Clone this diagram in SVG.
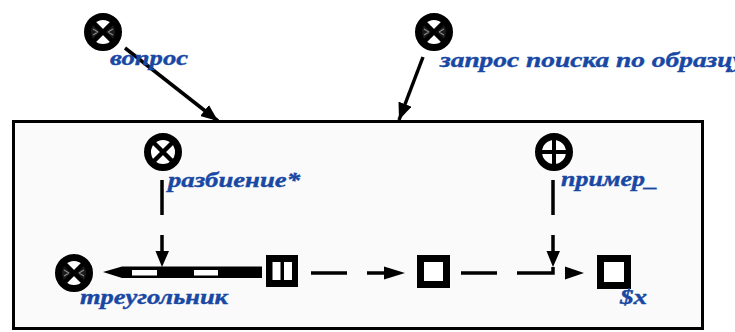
<svg xmlns="http://www.w3.org/2000/svg" xmlns:xlink="http://www.w3.org/1999/xlink" width="735" height="332" viewBox="0 0 735 332">
<style>
.lbl{font-family:"Liberation Serif","DejaVu Serif",serif;font-weight:bold;font-style:italic;font-size:21px;fill:#1848a4;stroke:#1848a4;stroke-width:0.4}
.ln{stroke:#000;stroke-width:3.5;fill:none}
.ar{fill:#000}
.sq{fill:#fff;stroke:#000;stroke-width:7}
</style>
<defs>
<marker id="ah" markerUnits="userSpaceOnUse" markerWidth="18" markerHeight="14" refX="17" refY="7" orient="auto"><path d="M0,0 L17,7 L0,14 Z" fill="#000"/></marker>
<g id="cX">
<circle r="15.5" fill="#fff"/>
<path d="M-10,-10 L10,10 M10,-10 L-10,10" stroke="#000" stroke-width="4.5"/>
<circle r="15.5" fill="none" stroke="#000" stroke-width="7"/>
</g>
<g id="cH">
<circle r="15.5" fill="#fff"/>
<path d="M0,0 L-13,-13 L-13,13 Z M0,0 L13,-13 L13,13 Z" fill="#1a1a1a"/>
<path d="M-10,-3 L-5,0 M-10,3 L-5,0 M10,-3 L5,0 M10,3 L5,0" stroke="#888" stroke-width="1.2"/>
<path d="M-10,-10 L10,10 M10,-10 L-10,10" stroke="#000" stroke-width="4.5"/>
<circle r="15.5" fill="none" stroke="#000" stroke-width="7"/>
</g>
<g id="cP">
<circle r="15.5" fill="#fff"/>
<path d="M0,-13 V13 M-13,0 H13" stroke="#000" stroke-width="4"/>
<circle r="15.5" fill="none" stroke="#000" stroke-width="7"/>
</g>
</defs>

<rect id="frame" x="13.5" y="121.5" width="689" height="207" fill="#fafafa" stroke="#000" stroke-width="3"/>

<g id="connectors">
<line class="ln" x1="125" y1="48" x2="218" y2="121" stroke-width="3" marker-end="url(#ah)"/>
<line class="ln" x1="423" y1="57" x2="399" y2="120" stroke-width="3" marker-end="url(#ah)"/>
<path class="ln" d="M162,180 V215 M162,235 V252"/>
<polygon class="ar" points="155.5,251 169,251 162,267"/>
<path class="ln" d="M553,180 V215 M553,235 V252"/>
<polygon class="ar" points="546.5,251 560,251 553,267"/>
<path class="ln" d="M311,273 H347 M367,273 H385"/>
<polygon class="ar" points="384,266.5 405,273 384,279.5"/>
<path class="ln" d="M461,273 H497 M517,273 H553 V267"/>
<polygon class="ar" points="565,266.5 584,273 565,279.5"/>
</g>

<g id="vopros"><use xlink:href="#cH" x="103" y="32"/><text class="lbl" x="110" y="65" textLength="78" lengthAdjust="spacingAndGlyphs">вопрос</text></g>
<g id="zapros"><use xlink:href="#cH" x="434" y="32"/><text class="lbl" x="440" y="67" textLength="305" lengthAdjust="spacingAndGlyphs">запрос поиска по образцу</text></g>
<g id="razbienie"><use xlink:href="#cX" x="163" y="152"/><text class="lbl" x="168" y="187" textLength="132" lengthAdjust="spacingAndGlyphs">разбиение*</text></g>
<g id="primer"><use xlink:href="#cP" x="554" y="152"/><text class="lbl" x="561" y="186" textLength="97" lengthAdjust="spacingAndGlyphs">пример_</text></g>
<g id="treugolnik"><use xlink:href="#cH" x="74" y="273"/><text class="lbl" x="80" y="304" textLength="148" lengthAdjust="spacingAndGlyphs">треугольник</text></g>
<g id="bar">
<polygon points="103,272 122,266.5 262,266.5 262,278 122,278" fill="#000"/>
<rect x="132" y="270" width="25" height="5.5" fill="#fff"/>
<rect x="194" y="270" width="24" height="5.5" fill="#fff"/>
</g>
<g id="sq1">
<rect x="266" y="255" width="32" height="32" fill="#000"/>
<rect x="272.5" y="262" width="8" height="18" fill="#fff"/>
<rect x="284" y="262" width="8" height="18" fill="#fff"/>
</g>
<g id="sq2"><rect class="sq" x="420.5" y="258.5" width="26" height="26"/></g>
<g id="sq3"><rect class="sq" x="600.5" y="258.5" width="27" height="27"/><text class="lbl" x="620" y="304" textLength="27" lengthAdjust="spacingAndGlyphs">$x</text></g>
</svg>
